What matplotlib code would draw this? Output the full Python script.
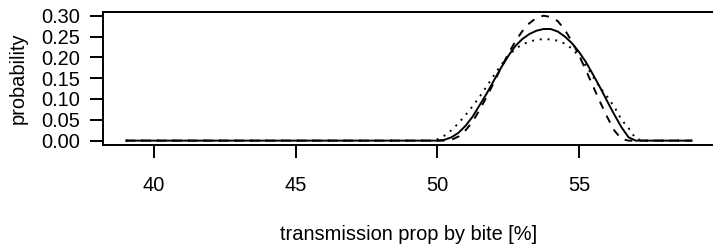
import matplotlib
matplotlib.use("Agg")
import matplotlib.pyplot as plt

# transmission prop by bite [%]
x = [39.0, 49.75, 50.0, 50.25, 50.5, 50.75, 51.0, 51.25, 51.5, 51.75, 52.0,
     52.25, 52.5, 52.75, 53.0, 53.25, 53.5, 53.75, 54.0, 54.25, 54.5,
     54.75, 55.0, 55.25, 55.5, 55.75, 56.0, 56.25, 56.5, 56.75, 57.0,
     57.25, 59.0]

p_solid = [0, 0, 0, 0.002, 0.008, 0.019, 0.036, 0.058, 0.086, 0.114, 0.145,
           0.175, 0.203, 0.227, 0.244, 0.256, 0.264, 0.268, 0.268, 0.262, 0.250,
           0.234, 0.213, 0.188, 0.158, 0.127, 0.094, 0.062, 0.032, 0.008, 0,
           0, 0]

p_dashed = [0, 0, 0, 0, 0.002, 0.010, 0.025, 0.046, 0.075, 0.106, 0.140,
            0.175, 0.208, 0.238, 0.263, 0.282, 0.295, 0.300, 0.297, 0.287, 0.266,
            0.238, 0.205, 0.168, 0.130, 0.092, 0.056, 0.024, 0.004, 0, 0,
            0, 0]

p_dotted = [0, 0, 0.003, 0.012, 0.025, 0.042, 0.062, 0.083, 0.106, 0.131, 0.157,
            0.182, 0.203, 0.220, 0.231, 0.238, 0.242, 0.244, 0.243, 0.240, 0.233,
            0.221, 0.203, 0.180, 0.153, 0.127, 0.105, 0.081, 0.050, 0.030, 0.005,
            0, 0]

yticks = [0.00, 0.05, 0.10, 0.15, 0.20, 0.25, 0.30]
xticks = [40, 45, 50, 55]

plt.rcParams['font.family'] = ['Liberation Sans', 'DejaVu Sans']
plt.rcParams['font.size'] = 14.4

fig = plt.figure(figsize=(7.13, 2.48), dpi=100)
ax = fig.add_axes([103 / 713, 103 / 248, 612 / 713, 133.3 / 248])

lw = 1.4
ax.plot(x, p_solid, color='black', lw=lw, solid_capstyle='butt')
ax.plot(x, p_dashed, color='black', lw=lw, dashes=(4, 4))
ax.plot(x, p_dotted, color='black', lw=lw, dashes=(1, 3))

ax.set_xlim(38.2, 59.8)
ax.set_ylim(-0.0105, 0.3096)
ax.set_xticks(xticks)
ax.set_xticklabels([str(t) for t in xticks])
ax.set_yticks(yticks)
ax.set_yticklabels([f"{t:.2f}" for t in yticks])

for s in ax.spines.values():
    s.set_linewidth(1.4)
ax.tick_params(axis='both', direction='out', length=9.4, width=1.4, color='black')
ax.tick_params(axis='y', pad=7)
ax.tick_params(axis='x', pad=13)

ax.set_xlabel('transmission prop by bite [%]', va='center')
ax.xaxis.set_label_coords(0.5, -0.675)
ax.set_ylabel('probability', va='center')
ax.yaxis.set_label_coords(-0.139, 0.5)

fig.savefig('out.png', dpi=100)
